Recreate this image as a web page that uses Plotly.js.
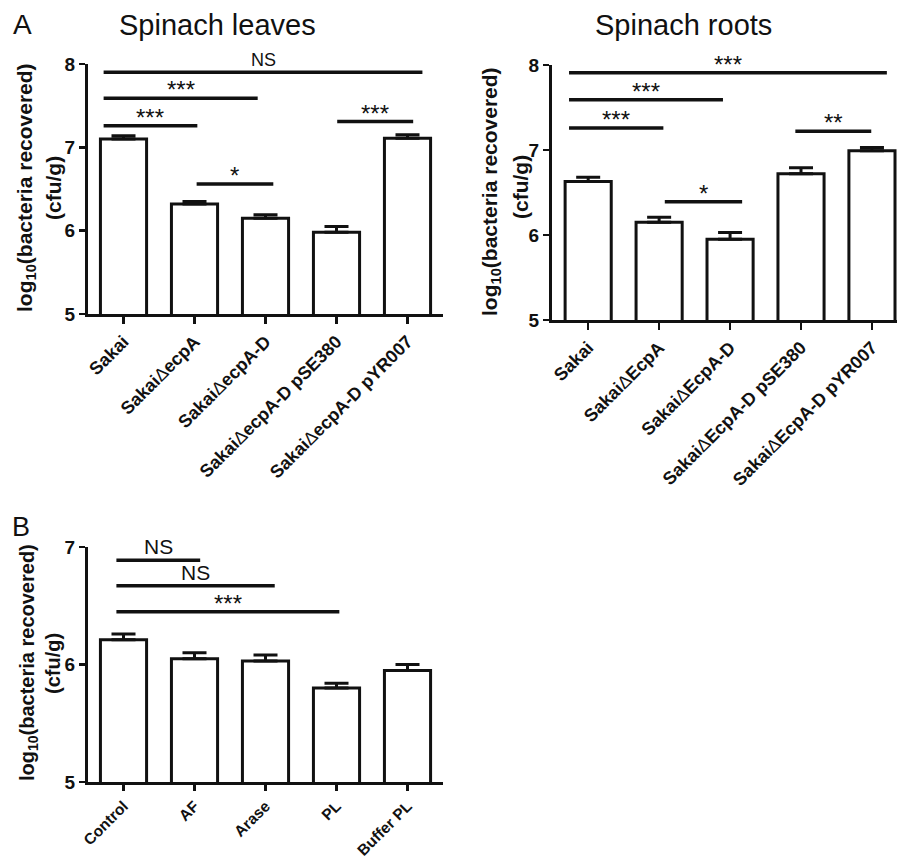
<!DOCTYPE html>
<html>
<head>
<meta charset="utf-8">
<script src="https://cdn.plot.ly/plotly-3.0.1.min.js"></script>
<style>html,body{margin:0;padding:0;background:#fff;}#chart{width:897px;height:861px;}</style>
</head>
<body>
<div id="chart"></div>
<script>
// ---- data ----
const D = "<span style='font-weight:normal'>Δ</span>";
const leavesCats = ["Sakai", "Sakai" + D + "ecpA", "Sakai" + D + "ecpA-D", "Sakai" + D + "ecpA-D pSE380", "Sakai" + D + "ecpA-D pYR007"];
const leavesMean = [7.10, 6.32, 6.15, 5.98, 7.11];
const leavesSem  = [0.04, 0.03, 0.04, 0.07, 0.04];

const rootsCats = ["Sakai", "Sakai" + D + "EcpA", "Sakai" + D + "EcpA-D", "Sakai" + D + "EcpA-D pSE380", "Sakai" + D + "EcpA-D pYR007"];
const rootsMean = [6.63, 6.15, 5.95, 6.72, 6.99];
const rootsSem  = [0.05, 0.06, 0.08, 0.07, 0.04];

const treatCats = ["Control", "AF", "Arase", "PL", "Buffer PL"];
const treatMean = [6.21, 6.05, 6.03, 5.80, 5.95];
const treatSem  = [0.05, 0.05, 0.05, 0.04, 0.05];

const leavesSigLabel = ["NS", "***", "***", "*", "***"];
const leavesSigFrom  = [-0.28, -0.28, -0.28, 1.03, 3.01];
const leavesSigTo    = [4.21, 1.89, 1.04, 2.11, 4.08];
const leavesSigY     = [7.90, 7.59, 7.26, 6.56, 7.31];

const rootsSigLabel = ["***", "***", "***", "*", "**"];
const rootsSigFrom  = [-0.27, -0.27, -0.27, 1.08, 2.92];
const rootsSigTo    = [4.21, 1.90, 1.06, 2.17, 3.99];
const rootsSigY     = [7.91, 7.59, 7.26, 6.39, 7.22];

const treatSigLabel = ["NS", "NS", "***"];
const treatSigFrom  = [-0.10, -0.10, -0.10];
const treatSigTo    = [1.08, 2.13, 3.04];
const treatSigY     = [6.887, 6.67, 6.45];

// ---- helpers ----
const W = 897, H = 861;
const FAM = "Liberation Sans, Arial, sans-serif";
const INK = "#111";
const px = v => v / W;
const py = v => 1 - v / H;
const idx = a => a.map((_, i) => i);

function barTrace(cats, mean, sem, xa, ya) {
  return {
    type: "bar", x: idx(cats), y: mean, xaxis: xa, yaxis: ya, width: 0.65,
    marker: {color: "#fff", line: {color: INK, width: 3}},
    error_y: {type: "data", symmetric: false, array: sem, arrayminus: sem.map(() => 0),
              color: INK, thickness: 3, width: 12},
    hoverinfo: "skip", showlegend: false
  };
}

const shapes = [], annotations = [];
function addSig(labels, from, to, ys, xr, yr) {
  labels.forEach((lab, i) => {
    shapes.push({type: "line", xref: xr, yref: yr, x0: from[i], x1: to[i], y0: ys[i], y1: ys[i],
                 line: {color: INK, width: 3.5}});
    const isNS = lab === "NS";
    annotations.push({xref: xr, yref: yr, x: (from[i] + to[i]) / 2, y: ys[i], text: lab,
      showarrow: false, xanchor: "center", yanchor: "bottom", yshift: isNS ? 0 : -7,
      font: {family: FAM, size: isNS ? (yr === "y3" ? 21 : 18) : 24, color: INK}});
  });
}
addSig(leavesSigLabel, leavesSigFrom, leavesSigTo, leavesSigY, "x", "y");
addSig(rootsSigLabel, rootsSigFrom, rootsSigTo, rootsSigY, "x2", "y2");
addSig(treatSigLabel, treatSigFrom, treatSigTo, treatSigY, "x3", "y3");

function paperText(text, x, y, size, opts) {
  annotations.push(Object.assign({xref: "paper", yref: "paper", x: px(x), y: py(y), text: text,
    showarrow: false, xanchor: "center", yanchor: "middle",
    font: {family: FAM, size: size, color: INK}}, opts || {}));
}
paperText("A", 22, 25, 28);
paperText("Spinach leaves", 217, 25, 29);
paperText("Spinach roots", 683, 25, 29);
paperText("B", 21, 527, 27);

const YL1 = "log<sub>10</sub>(bacteria recovered)", YL2 = "(cfu/g)";
function yLabel(x1, y1, x2, y2, size) {
  const f = {family: FAM, size: size, color: INK, weight: "bold"};
  paperText(YL1, x1, y1, size, {textangle: -90, font: f});
  paperText(YL2, x2, y2, size, {textangle: -90, font: f});
}
yLabel(26, 188, 54, 188, 21);
yLabel(491, 192, 520, 187, 21);
yLabel(28, 663, 53, 664, 20);

function xAxis(domain, range, cats, anchor, fs, tl) {
  return {domain: domain, range: range, anchor: anchor, tickmode: "array", tickvals: idx(cats), ticktext: cats,
    showline: true, linecolor: INK, linewidth: 3, ticks: "outside", ticklen: tl, tickwidth: 2.5, tickcolor: INK,
    tickangle: -45, showgrid: false, zeroline: false, fixedrange: true,
    tickfont: {family: FAM, size: fs, color: INK, weight: "bold"}};
}
function yAxis(domain, range, anchor) {
  return {domain: domain, range: range, anchor: anchor, dtick: 1, tick0: 5,
    showline: true, linecolor: INK, linewidth: 3, ticks: "outside", ticklen: 6, tickwidth: 2.5, tickcolor: INK,
    showgrid: false, zeroline: false, fixedrange: true,
    tickfont: {family: FAM, size: 19, color: INK, weight: "bold"}};
}

const data = [
  barTrace(leavesCats, leavesMean, leavesSem, "x", "y"),
  barTrace(rootsCats, rootsMean, rootsSem, "x2", "y2"),
  barTrace(treatCats, treatMean, treatSem, "x3", "y3")
];

const layout = {
  width: W, height: H, margin: {l: 0, r: 0, t: 0, b: 0},
  paper_bgcolor: "#fff", plot_bgcolor: "rgba(0,0,0,0)", showlegend: false,
  xaxis:  xAxis([px(88), px(443)], [-0.5, 4.5], leavesCats, "y", 18, 7),
  yaxis:  yAxis([py(314), py(64)], [5, 8], "x"),
  xaxis2: xAxis([px(552), 1], [-0.51, 4.353], rootsCats, "y2", 18, 7),
  yaxis2: yAxis([py(320), py(65)], [5, 8], "x2"),
  xaxis3: xAxis([px(88), px(443)], [-0.5, 4.5], treatCats, "y3", 15.5, 6),
  yaxis3: yAxis([py(782), py(547)], [5, 7], "x3"),
  shapes: shapes, annotations: annotations
};

Plotly.newPlot("chart", data, layout, {staticPlot: true, displayModeBar: false});
</script>
</body>
</html>
